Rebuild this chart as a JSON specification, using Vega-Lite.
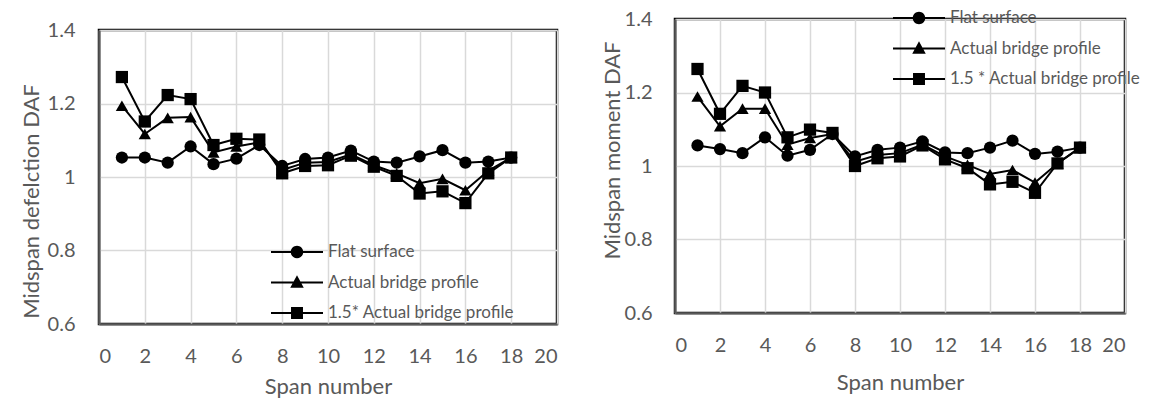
{
  "$schema": "https://vega.github.io/schema/vega-lite/v6.json",
  "padding": {"left": 18, "top": 3, "right": 5, "bottom": 0},
  "spacing": 40,
  "background": "white",
  "config": {
    "font": "Lato",
    "view": {"stroke": "#000000", "strokeWidth": 2.5},
    "axis": {
      "labelFont": "Lato", "labelFontSize": 20, "labelColor": "#595959",
      "titleFont": "Lato", "titleFontSize": 22, "titleFontWeight": "normal", "titleColor": "#595959",
      "gridColor": "#d9d9d9", "gridWidth": 1.5, "ticks": false,
      "domainColor": "#595959", "domainWidth": 2
    },
    "legend": {
      "labelFont": "Lato", "labelFontSize": 17, "labelColor": "#595959", "labelLimit": 400,
      "padding": 0, "rowPadding": 9.5, "labelOffset": 18
    }
  },
  "datasets": {
    "defl": [
      {"span":1,"series":"Flat surface","daf":1.053},{"span":2,"series":"Flat surface","daf":1.053},{"span":3,"series":"Flat surface","daf":1.039},{"span":4,"series":"Flat surface","daf":1.083},{"span":5,"series":"Flat surface","daf":1.035},{"span":6,"series":"Flat surface","daf":1.050},{"span":7,"series":"Flat surface","daf":1.087},{"span":8,"series":"Flat surface","daf":1.030},{"span":9,"series":"Flat surface","daf":1.049},{"span":10,"series":"Flat surface","daf":1.053},{"span":11,"series":"Flat surface","daf":1.072},{"span":12,"series":"Flat surface","daf":1.042},{"span":13,"series":"Flat surface","daf":1.039},{"span":14,"series":"Flat surface","daf":1.056},{"span":15,"series":"Flat surface","daf":1.073},{"span":16,"series":"Flat surface","daf":1.039},{"span":17,"series":"Flat surface","daf":1.042},{"span":18,"series":"Flat surface","daf":1.053},
      {"span":1,"series":"Actual bridge profile","daf":1.194},{"span":2,"series":"Actual bridge profile","daf":1.117},{"span":3,"series":"Actual bridge profile","daf":1.161},{"span":4,"series":"Actual bridge profile","daf":1.163},{"span":5,"series":"Actual bridge profile","daf":1.067},{"span":6,"series":"Actual bridge profile","daf":1.083},{"span":7,"series":"Actual bridge profile","daf":1.094},{"span":8,"series":"Actual bridge profile","daf":1.019},{"span":9,"series":"Actual bridge profile","daf":1.039},{"span":10,"series":"Actual bridge profile","daf":1.041},{"span":11,"series":"Actual bridge profile","daf":1.062},{"span":12,"series":"Actual bridge profile","daf":1.032},{"span":13,"series":"Actual bridge profile","daf":1.010},{"span":14,"series":"Actual bridge profile","daf":0.983},{"span":15,"series":"Actual bridge profile","daf":0.995},{"span":16,"series":"Actual bridge profile","daf":0.964},{"span":17,"series":"Actual bridge profile","daf":1.017},{"span":18,"series":"Actual bridge profile","daf":1.053},
      {"span":1,"series":"1.5* Actual bridge profile","daf":1.272},{"span":2,"series":"1.5* Actual bridge profile","daf":1.151},{"span":3,"series":"1.5* Actual bridge profile","daf":1.223},{"span":4,"series":"1.5* Actual bridge profile","daf":1.212},{"span":5,"series":"1.5* Actual bridge profile","daf":1.087},{"span":6,"series":"1.5* Actual bridge profile","daf":1.104},{"span":7,"series":"1.5* Actual bridge profile","daf":1.102},{"span":8,"series":"1.5* Actual bridge profile","daf":1.010},{"span":9,"series":"1.5* Actual bridge profile","daf":1.030},{"span":10,"series":"1.5* Actual bridge profile","daf":1.032},{"span":11,"series":"1.5* Actual bridge profile","daf":1.058},{"span":12,"series":"1.5* Actual bridge profile","daf":1.028},{"span":13,"series":"1.5* Actual bridge profile","daf":1.003},{"span":14,"series":"1.5* Actual bridge profile","daf":0.955},{"span":15,"series":"1.5* Actual bridge profile","daf":0.961},{"span":16,"series":"1.5* Actual bridge profile","daf":0.929},{"span":17,"series":"1.5* Actual bridge profile","daf":1.010},{"span":18,"series":"1.5* Actual bridge profile","daf":1.053}
    ],
    "mom": [
      {"span":1,"series":"Flat surface","daf":1.056},{"span":2,"series":"Flat surface","daf":1.046},{"span":3,"series":"Flat surface","daf":1.035},{"span":4,"series":"Flat surface","daf":1.078},{"span":5,"series":"Flat surface","daf":1.028},{"span":6,"series":"Flat surface","daf":1.044},{"span":7,"series":"Flat surface","daf":1.087},{"span":8,"series":"Flat surface","daf":1.026},{"span":9,"series":"Flat surface","daf":1.044},{"span":10,"series":"Flat surface","daf":1.050},{"span":11,"series":"Flat surface","daf":1.067},{"span":12,"series":"Flat surface","daf":1.037},{"span":13,"series":"Flat surface","daf":1.035},{"span":14,"series":"Flat surface","daf":1.050},{"span":15,"series":"Flat surface","daf":1.069},{"span":16,"series":"Flat surface","daf":1.033},{"span":17,"series":"Flat surface","daf":1.039},{"span":18,"series":"Flat surface","daf":1.050},
      {"span":1,"series":"Actual bridge profile","daf":1.189},{"span":2,"series":"Actual bridge profile","daf":1.108},{"span":3,"series":"Actual bridge profile","daf":1.156},{"span":4,"series":"Actual bridge profile","daf":1.156},{"span":5,"series":"Actual bridge profile","daf":1.058},{"span":6,"series":"Actual bridge profile","daf":1.076},{"span":7,"series":"Actual bridge profile","daf":1.087},{"span":8,"series":"Actual bridge profile","daf":1.012},{"span":9,"series":"Actual bridge profile","daf":1.030},{"span":10,"series":"Actual bridge profile","daf":1.035},{"span":11,"series":"Actual bridge profile","daf":1.058},{"span":12,"series":"Actual bridge profile","daf":1.026},{"span":13,"series":"Actual bridge profile","daf":1.003},{"span":14,"series":"Actual bridge profile","daf":0.978},{"span":15,"series":"Actual bridge profile","daf":0.989},{"span":16,"series":"Actual bridge profile","daf":0.955},{"span":17,"series":"Actual bridge profile","daf":1.007},{"span":18,"series":"Actual bridge profile","daf":1.050},
      {"span":1,"series":"1.5 * Actual bridge profile","daf":1.264},{"span":2,"series":"1.5 * Actual bridge profile","daf":1.142},{"span":3,"series":"1.5 * Actual bridge profile","daf":1.218},{"span":4,"series":"1.5 * Actual bridge profile","daf":1.200},{"span":5,"series":"1.5 * Actual bridge profile","daf":1.078},{"span":6,"series":"1.5 * Actual bridge profile","daf":1.099},{"span":7,"series":"1.5 * Actual bridge profile","daf":1.090},{"span":8,"series":"1.5 * Actual bridge profile","daf":1.000},{"span":9,"series":"1.5 * Actual bridge profile","daf":1.021},{"span":10,"series":"1.5 * Actual bridge profile","daf":1.026},{"span":11,"series":"1.5 * Actual bridge profile","daf":1.056},{"span":12,"series":"1.5 * Actual bridge profile","daf":1.018},{"span":13,"series":"1.5 * Actual bridge profile","daf":0.994},{"span":14,"series":"1.5 * Actual bridge profile","daf":0.950},{"span":15,"series":"1.5 * Actual bridge profile","daf":0.957},{"span":16,"series":"1.5 * Actual bridge profile","daf":0.927},{"span":17,"series":"1.5 * Actual bridge profile","daf":1.007},{"span":18,"series":"1.5 * Actual bridge profile","daf":1.050}
    ]
  },
  "hconcat": [
    {
      "spacing": -5,
      "vconcat": [
        {
          "width": 458, "height": 1,
          "data": {"name": "defl"},
          "view": {"stroke": null},
          "mark": {"type": "point", "opacity": 0},
          "encoding": {}
        },
        {
          "width": 458, "height": 294,
          "data": {"name": "defl"},
          "encoding": {
            "x": {"field": "span", "type": "quantitative", "title": "Span number",
                  "scale": {"domain": [0, 20], "nice": false},
                  "axis": {"values": [0,2,4,6,8,10,12,14,16,18,20], "labelPadding": 22, "titleY": 52, "titleBaseline": "top"}},
            "y": {"field": "daf", "type": "quantitative", "title": "Midspan defelction DAF",
                  "scale": {"domain": [0.6, 1.4], "nice": false, "zero": false},
                  "axis": {"values": [0.6,0.8,1,1.2,1.4], "format": "~g", "labelPadding": 24, "titleX": -61, "titleY": 171, "titleAlign": "center", "titleBaseline": "alphabetic"}}
          },
          "layer": [
            {"mark": {"type": "line", "color": "black", "strokeWidth": 2}, "encoding": {"detail": {"field": "series"}}},
            {"mark": {"type": "point", "filled": true, "color": "black", "opacity": 1, "size": 150},
             "encoding": {"shape": {"field": "series", "type": "nominal",
               "scale": {"domain": ["Flat surface","Actual bridge profile","1.5* Actual bridge profile"], "range": ["circle","triangle-up","square"]},
               "legend": null}}},
            {"mark": {"type": "point", "filled": true, "color": "black", "opacity": 0},
             "encoding": {"shape": {"field": "series", "type": "nominal",
               "scale": {"domain": ["Flat surface","Actual bridge profile","1.5* Actual bridge profile"],
                         "range": ["M-2,-0.077L2,-0.077L2,0.077L-2,0.077ZM-0.48,0A0.48,0.48,0,1,1,0.48,0A0.48,0.48,0,1,1,-0.48,0Z","M-2,-0.077L2,-0.077L2,0.077L-2,0.077ZM0,-0.55L0.52,0.4L-0.52,0.4Z","M-2,-0.077L2,-0.077L2,0.077L-2,0.077ZM-0.46,-0.46L0.46,-0.46L0.46,0.46L-0.46,0.46Z"]},
               "legend": {"title": null, "orient": "none", "legendX": 185, "legendY": 209, "symbolSize": 676,
                          "symbolOpacity": 1, "symbolFillColor": "black", "symbolStrokeWidth": 0,
                          "encode": {"symbols": {"update": {"fill": {"value": "black"}, "opacity": {"value": 1}}}}}}}}
          ],
          "resolve": {"scale": {"shape": "independent"}}
        }
      ]
    },
    {
      "width": 450, "height": 294,
      "data": {"name": "mom"},
      "encoding": {
        "x": {"field": "span", "type": "quantitative", "title": "Span number",
              "scale": {"domain": [0, 20], "nice": false},
              "axis": {"values": [0,2,4,6,8,10,12,14,16,18,20], "labelPadding": 22, "titleY": 59, "titleBaseline": "top"}},
        "y": {"field": "daf", "type": "quantitative", "title": "Midspan moment DAF",
              "scale": {"domain": [0.6, 1.4], "nice": false, "zero": false},
              "axis": {"values": [0.6,0.8,1,1.2,1.4], "format": "~g", "labelPadding": 23, "titleX": -56, "titleY": 131, "titleAlign": "center", "titleBaseline": "alphabetic"}}
      },
      "layer": [
        {"mark": {"type": "line", "color": "black", "strokeWidth": 2}, "encoding": {"detail": {"field": "series"}}},
        {"mark": {"type": "point", "filled": true, "color": "black", "opacity": 1, "size": 150},
         "encoding": {"shape": {"field": "series", "type": "nominal",
           "scale": {"domain": ["Flat surface","Actual bridge profile","1.5 * Actual bridge profile"], "range": ["circle","triangle-up","square"]},
           "legend": null}}},
        {"mark": {"type": "point", "filled": true, "color": "black", "opacity": 0},
         "encoding": {"shape": {"field": "series", "type": "nominal",
           "scale": {"domain": ["Flat surface","Actual bridge profile","1.5 * Actual bridge profile"],
                     "range": ["M-2,-0.077L2,-0.077L2,0.077L-2,0.077ZM-0.48,0A0.48,0.48,0,1,1,0.48,0A0.48,0.48,0,1,1,-0.48,0Z","M-2,-0.077L2,-0.077L2,0.077L-2,0.077ZM0,-0.55L0.52,0.4L-0.52,0.4Z","M-2,-0.077L2,-0.077L2,0.077L-2,0.077ZM-0.46,-0.46L0.46,-0.46L0.46,0.46L-0.46,0.46Z"]},
           "legend": {"title": null, "orient": "none", "legendX": 231, "legendY": -14, "symbolSize": 676,
                      "symbolOpacity": 1, "symbolFillColor": "black", "symbolStrokeWidth": 0,
                      "encode": {"symbols": {"update": {"fill": {"value": "black"}, "opacity": {"value": 1}}}}}}}}
      ],
      "resolve": {"scale": {"shape": "independent"}}
    }
  ]
}
